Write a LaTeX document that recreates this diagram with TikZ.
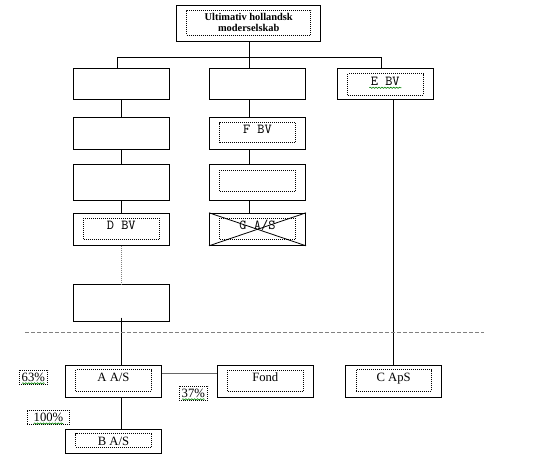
\documentclass[tikz,border=0pt]{standalone}
\usepackage{fontspec}
\setmainfont{Liberation Serif}
\usetikzlibrary{decorations.pathmorphing}

\begin{document}
\begin{tikzpicture}[x=0.75pt,y=-0.75pt,
    box/.style={draw,line width=0.75pt,inner sep=0pt,minimum width=72pt},
    inbox/.style={draw,line width=0.6pt,dash pattern=on 0.75pt off 0.75pt,inner sep=0pt,
      minimum width=56.6pt,text height=8.6pt,text depth=#1,anchor=north},
    inbox/.default=7.2pt,
    pct/.style={draw,line width=0.6pt,dash pattern=on 0.75pt off 0.75pt,inner sep=0pt,
      minimum width=21.5pt,text height=8.7pt,text depth=2pt},
    cour/.style={font=\ttfamily\fontsize{10.3}{11}\selectfont},
    link/.style={line width=0.75pt},
    squig/.style={green!50!black,line width=0.45pt,decorate,
      decoration={snake,amplitude=0.45pt,segment length=2.2pt}},
    font=\fontsize{9.5}{11}\selectfont]
    \useasboundingbox (0,0) rectangle (536,463);
    % Top parent
    \node[box,minimum width=108pt,minimum height=27.5pt] (top) at (248.7,23.35) {};
    \node[draw,line width=0.6pt,dash pattern=on 0.75pt off 0.75pt,inner sep=0pt,
      minimum width=93pt,minimum height=18.75pt,align=center,
      font=\bfseries\fontsize{7.8}{8.7}\selectfont] (topi) at (248.7,22.5)
      {Ultimativ hollandsk\\moderselskab};
    % Left chain
    \node[box,minimum height=23.25pt] (l1) at (121.3,84.5) {};
    \node[box,minimum height=24pt] (l2) at (121.3,133.3) {};
    \node[box,minimum height=27pt] (l3) at (121.3,183) {};
    \node[box,minimum height=24pt] (dbv) at (121.3,229.3) {};
    \node[inbox,cour] (dbvi) at ([yshift=-3.75pt]dbv.north) {D BV};
    \node[box,minimum height=27.5pt] (l5) at (121.3,303.3) {};
    % Middle chain
    \node[box,minimum height=23.25pt] (m1) at (257.5,84.5) {};
    \node[box,minimum height=24pt] (fbv) at (257.5,133.3) {};
    \node[inbox=6.4pt,cour] (fbvi) at ([yshift=-4pt]fbv.north) {F BV};
    \node[box,minimum height=27pt] (m3) at (257.5,183) {};
    \node[inbox] (m3i) at ([yshift=-4.2pt]m3.north) {};
    \node[box,minimum height=24pt] (gas) at (257.5,229.3) {};
    \node[inbox,cour] (gasi) at ([yshift=-3.75pt]gas.north) {G A/S};
    \draw[line width=0.6pt] (gas.north west) -- (gas.south east);
    \draw[line width=0.6pt] (gas.south west) -- (gas.north east);
    % Right chain
    \node[box,minimum height=23.25pt] (ebv) at (385.3,84.5) {};
    \node[inbox,cour] (ebvi) at ([yshift=-3.75pt]ebv.north) {E BV};
    % Danish companies
    \node[box,minimum height=24pt] (aas) at (113.5,381.3) {};
    \node[inbox] (aasi) at ([yshift=-3.5pt]aas.north) {A A/S};
    \node[box,minimum height=24pt] (fond) at (265.3,381.3) {};
    \node[inbox] (fondi) at ([yshift=-3.75pt]fond.north) {Fond};
    \node[box,minimum height=24pt] (caps) at (393.7,381.3) {};
    \node[inbox] (capsi) at ([yshift=-3.5pt]caps.north) {C ApS};
    \node[box,minimum height=18pt] (bas) at (113.5,441.3) {};
    \node[inbox=1.5pt] (basi) at ([yshift=-3.5pt]bas.north) {B A/S};
    % Ownership shares
    \node[pct] (p63) at (33.35,377.15) {63\%};
    \node[pct] (p37) at (193.35,393.15) {37\%};
    \node[pct,minimum width=31.8pt] (p100) at (48.5,417.35) {100\%};
    \draw[squig] ([xshift=-8.5pt,yshift=-1.3pt]p63.base) -- ([xshift=8.5pt,yshift=-1.3pt]p63.base);
    \draw[squig] ([xshift=-8.5pt,yshift=-1.3pt]p37.base) -- ([xshift=8.5pt,yshift=-1.3pt]p37.base);
    \draw[squig] ([xshift=-11pt,yshift=-1.3pt]p100.base) -- ([xshift=11pt,yshift=-1.3pt]p100.base);
    \draw[squig] ([xshift=-12pt,yshift=-1.8pt]ebvi.base) -- ([xshift=12pt,yshift=-1.8pt]ebvi.base);
    % Connectors
    \coordinate (colL) at (121.5,0);
    \coordinate (colM) at (249.3,0);
    \coordinate (colR) at (393.3,0);
    \coordinate (busL) at (117.7,57.7);
    \coordinate (busR) at (381.7,57.7);
    \draw[link] (top.south -| colM) -- (colM |- busL);
    \draw[link] (l1.north -| busL) -- (busL) -- (busR) -- (ebv.north -| busR);
    \draw[link] (m1.north -| colM) -- (colM |- busL);
    \foreach \a/\b in {l1/l2,l2/l3,l3/dbv}
      \draw[link] (\a.south -| colL) -- (\b.north -| colL);
    \foreach \a/\b in {m1/fbv,fbv/m3,m3/gas}
      \draw[link] (\a.south -| colM) -- (\b.north -| colM);
    \draw[gray,line width=0.75pt,dash pattern=on 0.75pt off 0.75pt]
      (dbv.south -| colL) -- (l5.north -| colL);
    \coordinate (l5x) at ([yshift=3.3pt]l5.south);
    \draw[link] (l5x -| colL) -- (aas.north -| colL);
    \draw[link] (aas.south -| colL) -- (bas.north -| colL);
    \draw[link] (ebv.south -| colR) -- (caps.north -| colR);
    \coordinate (aasx) at ([yshift=6pt]aas.east);
    \draw[gray!80!black,line width=0.9pt] (aasx) -- (aasx -| fond.west);
    % Border line
    \draw[gray,line width=0.75pt,dash pattern=on 3pt off 1.5pt] (25,333) -- (484,333);
\end{tikzpicture}
\end{document}
